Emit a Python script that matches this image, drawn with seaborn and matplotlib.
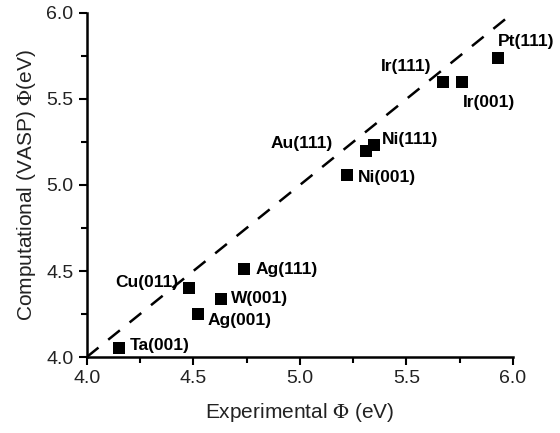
import matplotlib
matplotlib.use("Agg")
import matplotlib.pyplot as plt
import seaborn as sns
import pandas as pd
from matplotlib.ticker import MultipleLocator

labels = ["Ta(001)", "Cu(011)", "Ag(001)", "W(001)", "Ag(111)", "Ni(001)",
          "Au(111)", "Ni(111)", "Ir(111)", "Ir(001)", "Pt(111)"]
experimental = [4.15, 4.48, 4.52, 4.63, 4.74, 5.22, 5.31, 5.35, 5.67, 5.76, 5.93]
computational = [4.05, 4.40, 4.25, 4.34, 4.51, 5.06, 5.20, 5.23, 5.60, 5.60, 5.74]
# label offsets in points (dx, dy) and horizontal alignment
label_dx = [8, -8, 7, 7, 8, 8, -24, 5, -8, 1, 0]
label_dy = [2, 4, -5, 0, 0, -2, 5, 4, 11, -15, 12]
label_ha = ["left", "right", "left", "left", "left", "left", "right", "left", "right", "left", "left"]
diag = [4.0, 5.97]

sns.set_theme(style="ticks")
plt.rcParams["font.family"] = ["Liberation Sans", "DejaVu Sans"]
plt.rcParams["mathtext.fontset"] = "stix"

df = pd.DataFrame({"exp": experimental, "comp": computational, "label": labels})

fig = plt.figure(figsize=(5.6, 4.33), dpi=100)
ax = fig.add_axes([0.155, 0.1755, 0.761, 0.7945])

ax.plot(diag, diag, color="black", linestyle=(0, (6, 5)), linewidth=1.8, zorder=1)
sns.scatterplot(data=df, x="exp", y="comp", marker="s", s=80, color="black",
                edgecolor="black", linewidth=0, ax=ax, zorder=2)

for x, y, t, dx, dy, ha in zip(experimental, computational, labels, label_dx, label_dy, label_ha):
    ax.annotate(t, (x, y), xytext=(dx, dy), textcoords="offset points",
                ha=ha, va="center", fontsize=12.5, fontweight="bold", color="black")

ax.set_xlim(4.0, 6.0)
ax.set_ylim(4.0, 6.0)
ax.set_xticks([4.0, 4.5, 5.0, 5.5, 6.0])
ax.set_xticklabels(["4.0", "4.5", "5.0", "5.5", "6.0"])
ax.set_yticks([4.0, 4.5, 5.0, 5.5, 6.0])
ax.set_yticklabels(["4.0", "4.5", "5.0", "5.5", "6.0"])
ax.xaxis.set_minor_locator(MultipleLocator(0.25))
ax.yaxis.set_minor_locator(MultipleLocator(0.25))
ax.tick_params(axis="both", which="major", direction="out", length=6, width=1.5,
               labelsize=14, color="black", labelcolor="#222222")
ax.tick_params(axis="both", which="minor", direction="out", length=4, width=1.5, color="black")

sns.despine(ax=ax)
for s in ["left", "bottom"]:
    ax.spines[s].set_linewidth(1.8)
    ax.spines[s].set_color("black")

ax.set_xlabel(r"Experimental $\Phi$ (eV)", fontsize=15, color="#222222", labelpad=10)
ax.set_ylabel(r"Computational (VASP) $\Phi$(eV)", fontsize=15, color="#222222", labelpad=6)

fig.savefig("out.png", dpi=100)
